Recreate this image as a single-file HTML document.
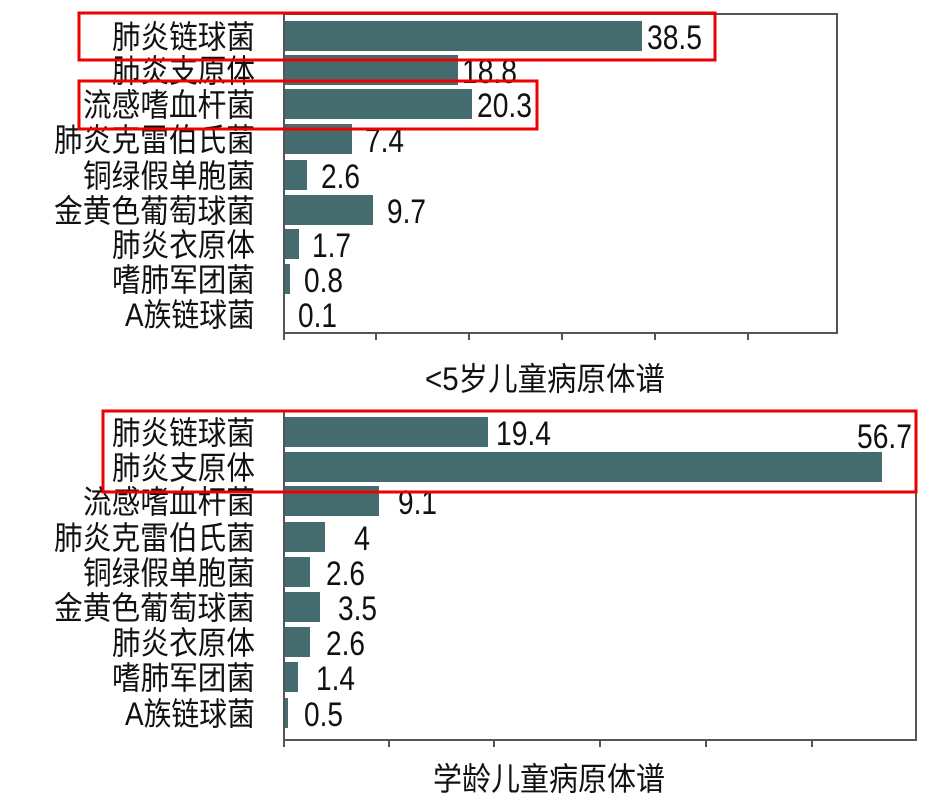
<!DOCTYPE html>
<html><head><meta charset="utf-8"><style>
body{margin:0;background:#fff}
svg{display:block}
text{font-family:"Liberation Sans","Noto Sans CJK SC",sans-serif;fill:#111}
.l{font-size:32px;text-anchor:end}
.v{font-size:34px}
.t{font-size:32px;text-anchor:middle}
</style></head><body>
<svg width="951" height="801" viewBox="0 0 951 801">
<g fill="#446b6e">
<rect x="283" y="21" width="359" height="30"/>
<rect x="283" y="55" width="175" height="30"/>
<rect x="283" y="89" width="189" height="30"/>
<rect x="283" y="124" width="69" height="30"/>
<rect x="283" y="160" width="24" height="30"/>
<rect x="283" y="195" width="90" height="30"/>
<rect x="283" y="229" width="16" height="30"/>
<rect x="283" y="264" width="7" height="30"/>
<rect x="283" y="299" width="1" height="30"/>
<rect x="283" y="417" width="205" height="30"/>
<rect x="283" y="452" width="599" height="30"/>
<rect x="283" y="486" width="96" height="30"/>
<rect x="283" y="522" width="42" height="30"/>
<rect x="283" y="557" width="27" height="30"/>
<rect x="283" y="592" width="37" height="30"/>
<rect x="283" y="627" width="27" height="30"/>
<rect x="283" y="662" width="15" height="30"/>
<rect x="283" y="698" width="5" height="30"/>
</g>
<g fill="none" stroke="#555" stroke-width="2">
<rect x="284" y="14" width="553" height="319"/>
<rect x="284" y="411" width="632" height="329"/>
</g>
<g stroke="#555" stroke-width="2">
<line x1="376" y1="333" x2="376" y2="340"/><line x1="469" y1="333" x2="469" y2="340"/><line x1="562" y1="333" x2="562" y2="340"/><line x1="655" y1="333" x2="655" y2="340"/><line x1="748" y1="333" x2="748" y2="340"/><line x1="284" y1="333" x2="284" y2="340"/>
<line x1="284" y1="740" x2="284" y2="747"/><line x1="389" y1="740" x2="389" y2="747"/><line x1="494" y1="740" x2="494" y2="747"/><line x1="600" y1="740" x2="600" y2="747"/><line x1="706" y1="740" x2="706" y2="747"/><line x1="812" y1="740" x2="812" y2="747"/>
</g>
<g>
<text class="l" x="255" y="48" textLength="143" lengthAdjust="spacingAndGlyphs">肺炎链球菌</text>
<text class="l" x="255" y="82" textLength="143" lengthAdjust="spacingAndGlyphs">肺炎支原体</text>
<text class="l" x="255" y="116" textLength="172" lengthAdjust="spacingAndGlyphs">流感嗜血杆菌</text>
<text class="l" x="255" y="151" textLength="201" lengthAdjust="spacingAndGlyphs">肺炎克雷伯氏菌</text>
<text class="l" x="255" y="187" textLength="172" lengthAdjust="spacingAndGlyphs">铜绿假单胞菌</text>
<text class="l" x="255" y="222" textLength="201" lengthAdjust="spacingAndGlyphs">金黄色葡萄球菌</text>
<text class="l" x="255" y="256" textLength="143" lengthAdjust="spacingAndGlyphs">肺炎衣原体</text>
<text class="l" x="255" y="291" textLength="143" lengthAdjust="spacingAndGlyphs">嗜肺军团菌</text>
<text class="l" x="255" y="326" textLength="130" lengthAdjust="spacingAndGlyphs">A族链球菌</text>
<text class="l" x="255" y="444" textLength="143" lengthAdjust="spacingAndGlyphs">肺炎链球菌</text>
<text class="l" x="255" y="479" textLength="143" lengthAdjust="spacingAndGlyphs">肺炎支原体</text>
<text class="l" x="255" y="513" textLength="172" lengthAdjust="spacingAndGlyphs">流感嗜血杆菌</text>
<text class="l" x="255" y="549" textLength="201" lengthAdjust="spacingAndGlyphs">肺炎克雷伯氏菌</text>
<text class="l" x="255" y="584" textLength="172" lengthAdjust="spacingAndGlyphs">铜绿假单胞菌</text>
<text class="l" x="255" y="619" textLength="201" lengthAdjust="spacingAndGlyphs">金黄色葡萄球菌</text>
<text class="l" x="255" y="654" textLength="143" lengthAdjust="spacingAndGlyphs">肺炎衣原体</text>
<text class="l" x="255" y="689" textLength="143" lengthAdjust="spacingAndGlyphs">嗜肺军团菌</text>
<text class="l" x="255" y="725" textLength="130" lengthAdjust="spacingAndGlyphs">A族链球菌</text>
</g>
<text class="v" x="647" y="49" textLength="55" lengthAdjust="spacingAndGlyphs">38.5</text>
<text class="v" x="462" y="83" textLength="55" lengthAdjust="spacingAndGlyphs">18.8</text>
<text class="v" x="477" y="117" textLength="55" lengthAdjust="spacingAndGlyphs">20.3</text>
<text class="v" x="365" y="152" textLength="39" lengthAdjust="spacingAndGlyphs">7.4</text>
<text class="v" x="321" y="188" textLength="39" lengthAdjust="spacingAndGlyphs">2.6</text>
<text class="v" x="387" y="223" textLength="39" lengthAdjust="spacingAndGlyphs">9.7</text>
<text class="v" x="312" y="257" textLength="39" lengthAdjust="spacingAndGlyphs">1.7</text>
<text class="v" x="304" y="292" textLength="39" lengthAdjust="spacingAndGlyphs">0.8</text>
<text class="v" x="298" y="327" textLength="39" lengthAdjust="spacingAndGlyphs">0.1</text>
<text class="v" x="496" y="445" textLength="55" lengthAdjust="spacingAndGlyphs">19.4</text>
<text class="v" x="857" y="448" textLength="55" lengthAdjust="spacingAndGlyphs">56.7</text>
<text class="v" x="398" y="514" textLength="39" lengthAdjust="spacingAndGlyphs">9.1</text>
<text class="v" x="354" y="550" textLength="16" lengthAdjust="spacingAndGlyphs">4</text>
<text class="v" x="326" y="585" textLength="39" lengthAdjust="spacingAndGlyphs">2.6</text>
<text class="v" x="338" y="620" textLength="39" lengthAdjust="spacingAndGlyphs">3.5</text>
<text class="v" x="326" y="655" textLength="39" lengthAdjust="spacingAndGlyphs">2.6</text>
<text class="v" x="316" y="690" textLength="39" lengthAdjust="spacingAndGlyphs">1.4</text>
<text class="v" x="304" y="726" textLength="39" lengthAdjust="spacingAndGlyphs">0.5</text>
<text class="t" x="545" y="390" textLength="240" lengthAdjust="spacingAndGlyphs">&lt;5岁儿童病原体谱</text>
<text class="t" x="549" y="790" textLength="232" lengthAdjust="spacingAndGlyphs">学龄儿童病原体谱</text>
<g fill="none" stroke="#e00" stroke-width="3">
<rect x="79" y="13" width="636" height="47"/>
<rect x="79" y="81" width="458" height="48"/>
<rect x="103" y="411" width="813" height="81"/>
</g>
</svg>
</body></html>
